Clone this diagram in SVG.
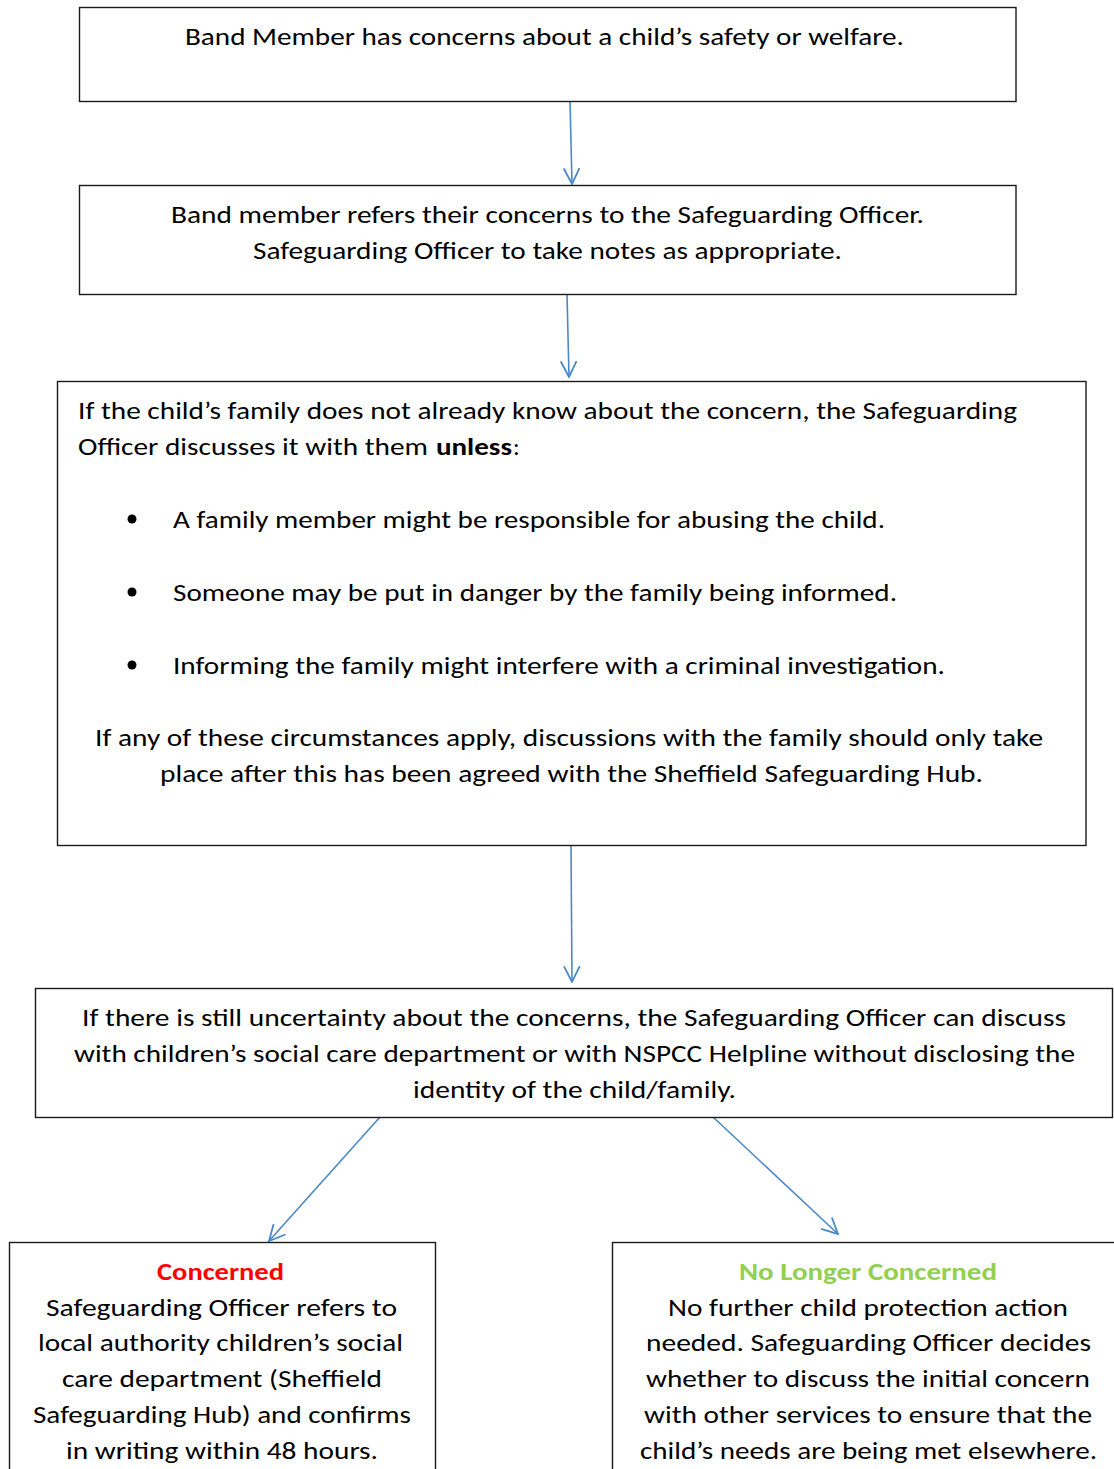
<svg xmlns="http://www.w3.org/2000/svg" width="1114" height="1469" viewBox="0 0 1114 1469">
<style>
.box{fill:#fff;stroke:#1a1a1a;stroke-width:1.4}
.t{font-family:Carlito,"Open Sans","Noto Sans",sans-serif;font-size:25px;fill:#000}
.b{font-weight:bold}
.con{stroke:#4A89C8;stroke-width:1.6;fill:none}
</style>
<defs>
<marker id="ah" markerUnits="userSpaceOnUse" markerWidth="18" markerHeight="18" viewBox="0 0 16 16" refX="15" refY="8" orient="auto">
<path d="M1,1 L15,8 L1,15" fill="none" stroke="#4A89C8" stroke-width="1.6"/>
</marker>
</defs>
<rect width="1114" height="1469" fill="#fff"/>
<g id="connectors">
<line class="con" x1="570" y1="101" x2="572" y2="184" marker-end="url(#ah)"/>
<line class="con" x1="567" y1="294" x2="569" y2="377" marker-end="url(#ah)"/>
<line class="con" x1="571" y1="845" x2="572" y2="982" marker-end="url(#ah)"/>
<line class="con" x1="380" y1="1117" x2="269" y2="1241" marker-end="url(#ah)"/>
<line class="con" x1="713" y1="1117" x2="838" y2="1234" marker-end="url(#ah)"/>
</g>
<g id="n1">
<rect class="box" x="79.5" y="7.5" width="936.5" height="94"/>
<text class="t" x="185" y="45" textLength="719" lengthAdjust="spacingAndGlyphs">Band Member has concerns about a child’s safety or welfare.</text>
</g>
<g id="n2">
<rect class="box" x="79.5" y="185.5" width="936.5" height="109"/>
<text class="t" x="171" y="223" textLength="753" lengthAdjust="spacingAndGlyphs">Band member refers their concerns to the Safeguarding Officer.</text>
<text class="t" x="253" y="259" textLength="589" lengthAdjust="spacingAndGlyphs">Safeguarding Officer to take notes as appropriate.</text>
</g>
<g id="n3">
<rect class="box" x="57.5" y="381.5" width="1028.5" height="464"/>
<text class="t" x="78" y="419" textLength="939" lengthAdjust="spacingAndGlyphs">If the child’s family does not already know about the concern, the Safeguarding</text>
<text class="t" x="78" y="455" textLength="350" lengthAdjust="spacingAndGlyphs">Officer discusses it with them</text>
<text class="t b" x="436" y="455" textLength="76" lengthAdjust="spacingAndGlyphs">unless</text>
<text class="t" x="513" y="455">:</text>
<circle cx="132" cy="519" r="4.5" fill="#000"/>
<circle cx="132" cy="592" r="4.5" fill="#000"/>
<circle cx="132" cy="665" r="4.5" fill="#000"/>
<text class="t" x="173" y="528" textLength="712" lengthAdjust="spacingAndGlyphs">A family member might be responsible for abusing the child.</text>
<text class="t" x="173" y="601" textLength="724" lengthAdjust="spacingAndGlyphs">Someone may be put in danger by the family being informed.</text>
<text class="t" x="173" y="674" textLength="772" lengthAdjust="spacingAndGlyphs">Informing the family might interfere with a criminal investigation.</text>
<text class="t" x="95" y="746" textLength="948" lengthAdjust="spacingAndGlyphs">If any of these circumstances apply, discussions with the family should only take</text>
<text class="t" x="160" y="782" textLength="823" lengthAdjust="spacingAndGlyphs">place after this has been agreed with the Sheffield Safeguarding Hub.</text>
</g>
<g id="n4">
<rect class="box" x="35.5" y="988.5" width="1077" height="129"/>
<text class="t" x="82" y="1026" textLength="984" lengthAdjust="spacingAndGlyphs">If there is still uncertainty about the concerns, the Safeguarding Officer can discuss</text>
<text class="t" x="74" y="1062" textLength="1001" lengthAdjust="spacingAndGlyphs">with children’s social care department or with NSPCC Helpline without disclosing the</text>
<text class="t" x="413" y="1098" textLength="323" lengthAdjust="spacingAndGlyphs">identity of the child/family.</text>
</g>
<g id="n5">
<rect class="box" x="9.5" y="1242.5" width="426" height="240"/>
<text class="t b" x="157" y="1280" textLength="127" lengthAdjust="spacingAndGlyphs" fill="#FF0000" style="fill:#FF0000">Concerned</text>
<text class="t" x="46" y="1316" textLength="351" lengthAdjust="spacingAndGlyphs">Safeguarding Officer refers to</text>
<text class="t" x="38" y="1351" textLength="365" lengthAdjust="spacingAndGlyphs">local authority children’s social</text>
<text class="t" x="62" y="1387" textLength="320" lengthAdjust="spacingAndGlyphs">care department (Sheffield</text>
<text class="t" x="33" y="1423" textLength="378" lengthAdjust="spacingAndGlyphs">Safeguarding Hub) and confirms</text>
<text class="t" x="66" y="1459" textLength="312" lengthAdjust="spacingAndGlyphs">in writing within 48 hours.</text>
</g>
<g id="n6">
<rect class="box" x="612.5" y="1242.5" width="510" height="240"/>
<text class="t b" x="739" y="1280" textLength="258" lengthAdjust="spacingAndGlyphs" style="fill:#92D050">No Longer Concerned</text>
<text class="t" x="668" y="1316" textLength="400" lengthAdjust="spacingAndGlyphs">No further child protection action</text>
<text class="t" x="646" y="1351" textLength="445" lengthAdjust="spacingAndGlyphs">needed. Safeguarding Officer decides</text>
<text class="t" x="646" y="1387" textLength="444" lengthAdjust="spacingAndGlyphs">whether to discuss the initial concern</text>
<text class="t" x="644" y="1423" textLength="448" lengthAdjust="spacingAndGlyphs">with other services to ensure that the</text>
<text class="t" x="640" y="1459" textLength="457" lengthAdjust="spacingAndGlyphs">child’s needs are being met elsewhere.</text>
</g>
</svg>
